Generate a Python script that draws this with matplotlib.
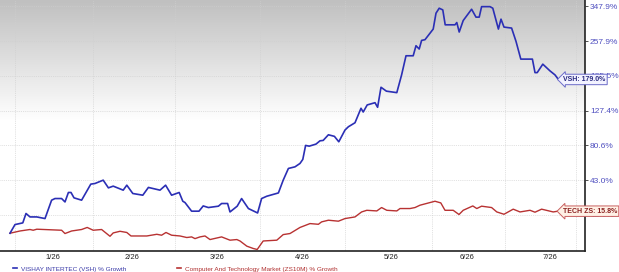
import numpy as np
import matplotlib
matplotlib.use("Agg")
import matplotlib.pyplot as plt
from matplotlib.lines import Line2D

plt.rcParams["font.family"] = ["Liberation Sans", "DejaVu Sans"]

# ---------- data ----------
vsh_days = [0, 1.25, 3.2, 4.0, 5.0, 6.7, 8.75, 10.4, 11.25, 12.9, 13.75, 14.6, 15.25, 16, 17.9,
            20.2, 21.25, 23.3, 24.6, 25.8, 28.3, 29.2, 30.7, 33.2, 34.6, 37.5, 38.9, 40.4, 42.3,
            43.2, 43.75, 45.4, 47.25, 48.3, 49.6, 52.1, 52.9, 54.4, 55, 56.8, 57.9, 59.6, 61.9,
            62.9, 64.2, 67.1, 68.3, 69.6, 71.25, 72.5, 73.2, 73.9, 74.8, 76.5, 77.5, 78.3, 79.6,
            81.1, 82.2, 83.75, 84.6, 86.25, 87.75, 88.3, 89.3, 91.25, 91.9, 92.75, 94.1, 96.7,
            97.9, 99, 100.8, 101.5, 102.3, 102.9, 103.75, 105.8, 106.5, 107.3, 108.2, 108.8,
            111.25, 111.7, 112.3, 113.3, 115.4, 116.5, 117.3, 117.9, 120, 120.7, 122.1, 122.75,
            123.5, 125.4, 126.5, 127.7, 130.6, 131.25, 131.8, 133.2, 135, 136.25, 137.1]
vsh_growth = [0, 5.9, 7.1, 14.0, 11.4, 11.4, 10.2, 24.8, 26.2, 26.2, 23.3, 31.5, 31.5, 26.8, 24.8,
              39.2, 39.8, 43.0, 35.7, 37.3, 33.6, 38.2, 30.6, 29.1, 36.1, 33.6, 38.2, 29.1, 31.5,
              23.9, 22.8, 15.8, 15.8, 20.0, 18.7, 19.8, 22.0, 22.0, 15.2, 19.8, 26.2, 17.9, 14.4,
              26.2, 28.2, 31.1, 43.0, 54.7, 56.4, 60.0, 64.4, 80.6, 79.7, 82.2, 86.2, 86.7, 93.8,
              91.8, 85.0, 100.0, 104.4, 109.9, 131.0, 125.4, 136.1, 139.6, 132.5, 165.1, 158.4, 155.9,
              187.4, 225.5, 225.5, 247.5, 240.1, 259.7, 261.4, 287.0, 328.8, 342.8, 338.0, 297.8,
              297.8, 303.7, 279.7, 308.9, 339.9, 318.0, 318.0, 347.3, 347.3, 342.8, 287.0, 312.6,
              292.0, 289.5, 257.5, 218.5, 218.5, 191.7, 191.7, 208.2, 195.0, 187.4, 179.0]

tech_days = [0, 2.5, 5, 5.8, 6.7, 12.9, 13.75, 15.4, 17.9, 19.3, 20.8, 22.9, 25, 25.8, 27.5, 29.2,
             30.25, 34.2, 36.7, 37.9, 39, 40.4, 42.5, 44.2, 45.4, 46.25, 47.5, 48.75, 50, 52.9, 55,
             56.7, 57.5, 59.2, 60.8, 61.8, 63.3, 66.7, 68.3, 70, 72.5, 75, 77.1, 77.9, 79.6, 82.1,
             83.75, 86.25, 87.9, 89.2, 91.7, 92.9, 94.2, 96.7, 97.5, 100, 101.25, 102.5, 105,
             106.25, 107.7, 108.75, 110.8, 112.25, 113.3, 115.7, 116.7, 117.9, 120.4, 121.7, 123.5,
             125.8, 127.5, 130, 131.25, 132.9, 135.8, 137]
tech_growth = [0, 1.5, 2.5, 2.0, 2.7, 2.0, -0.2, 1.5, 2.5, 3.9, 2.0, 2.5, -2.0, 0.2, 1.3, 0.5,
               -1.8, -1.8, -0.7, -1.3, 0.5, -1.3, -1.8, -2.8, -2.4, -3.5, -2.4, -1.8, -4.1, -2.4,
               -4.5, -4.1, -5.0, -8.2, -9.6, -10.2, -5.0, -4.5, -0.9, -0.2, 3.9, 6.6, 6.1, 7.8, 9.0,
               8.3, 10.2, 11.4, 15.2, 16.5, 16.0, 18.7, 16.5, 16.0, 17.9, 17.9, 18.7, 20.6, 22.8,
               23.9, 22.5, 16.5, 16.5, 13.2, 16.5, 20.0, 17.9, 19.8, 18.7, 15.2, 13.4, 17.4, 15.2,
               16.5, 15.0, 17.4, 15.2, 15.8]

ytick_vals = [12.9, 43.0, 80.6, 127.4, 185.5, 257.9, 347.9]
xtick_days = [10.8, 30.6, 51.7, 73.1, 95.2, 114.25, 135]
xtick_labels = ["1/26", "2/26", "3/26", "4/26", "5/26", "6/26", "7/26"]
xgrid_days = [1.25, 20.75, 41.25, 62.5, 83.75, 105.5, 123.75, 141.5]

vsh_name = "VISHAY INTERTEC (VSH) % Growth"
tech_name = "Computer And Technology Market (ZS10M) % Growth"
blue = "#2b2fb5"
red = "#b83232"

# ---------- y scale: ticks equally spaced, log-like in between ----------
log_knots = np.log1p(np.array([-20.05] + ytick_vals + [460.5]) / 100)
pos_knots = np.array([-1.5, 0, 1, 2, 3, 4, 5, 6, 7])


def fwd(v):
    return np.interp(np.log1p(np.asarray(v, dtype=float) / 100), log_knots, pos_knots)


def inv(p):
    return np.expm1(np.interp(np.asarray(p, dtype=float), pos_knots, log_knots)) * 100


fig = plt.figure(figsize=(6.19, 2.72), dpi=100)
ax = fig.add_axes([0, 21 / 272, 585 / 619, 251 / 272])
ax.set_yscale("function", functions=(fwd, inv))
ax.set_ylim(-11.1, 366.9)
ax.set_xlim(-2.5, 143.75)

# gray-to-white background
grad = np.ones((256, 1))
fr = np.linspace(1, 0, 256)
grad[:, 0] = np.clip((fr - 0.52) / 0.48, 0, 1)
ax.imshow(grad, cmap=matplotlib.colors.LinearSegmentedColormap.from_list("g", ["#ffffff", "#c0c0c0"]),
          extent=[0, 1, 0, 1], transform=ax.transAxes, aspect="auto", zorder=0, vmin=0, vmax=1)

for v in ytick_vals:
    ax.axhline(v, color="#cfcfcf", lw=0.5, ls=(0, (1.2, 1.5)), zorder=1)
for d in xgrid_days:
    ax.axvline(d, color="#cfcfcf", lw=0.5, ls=(0, (1.2, 1.5)), zorder=1)

ax.plot(tech_days, tech_growth, color=red, lw=1.0, zorder=3)
ax.plot(vsh_days, vsh_growth, color=blue, lw=1.2, zorder=4)

for s in ["left", "top"]:
    ax.spines[s].set_visible(False)
for s in ["right", "bottom"]:
    ax.spines[s].set_color("#222222")
    ax.spines[s].set_linewidth(1.2)

ax.yaxis.tick_right()
ax.set_yticks(ytick_vals)
ax.set_yticklabels([f"{v:.1f}%" for v in ytick_vals])
ax.tick_params(axis="y", which="major", direction="out", length=2.5, width=0.6, color="#333333",
               labelsize=6, labelcolor="#5050c0", pad=1)
ax.yaxis.set_minor_locator(matplotlib.ticker.NullLocator())
ax.set_xticks(xtick_days)
ax.set_xticklabels(xtick_labels)
ax.tick_params(axis="x", length=0, labelsize=5.5, labelcolor="#222222", pad=2.5)

# end labels
ax.text(vsh_days[-1] + 1.2, vsh_growth[-1], f"VSH: {vsh_growth[-1]:.1f}%", fontsize=5, fontweight="bold",
        color="#2a2a80", ha="left", va="center", zorder=6, clip_on=False,
        bbox=dict(boxstyle="larrow,pad=0.25", fc="#f2f2ff", ec="#6a6ac8", lw=0.7))
ax.text(tech_days[-1] + 1.2, tech_growth[-1], f"TECH ZS: {tech_growth[-1]:.1f}%", fontsize=5, fontweight="bold",
        color="#8a2020", ha="left", va="center", zorder=6, clip_on=False,
        bbox=dict(boxstyle="larrow,pad=0.25", fc="#fff1e6", ec="#c86060", lw=0.7))

# legend along the bottom
handles = [Line2D([], [], color=blue, lw=1.2), Line2D([], [], color=red, lw=1.2)]
leg = fig.legend(handles, [vsh_name, tech_name], loc="lower left", bbox_to_anchor=(0.012, -0.02),
                 ncol=2, frameon=False, fontsize=4.6, handlelength=0.6, handletextpad=0.6,
                 columnspacing=8.0)
leg.get_texts()[0].set_color("#3a3aa8")
leg.get_texts()[1].set_color("#b03030")

fig.savefig("out.png", dpi=100)
